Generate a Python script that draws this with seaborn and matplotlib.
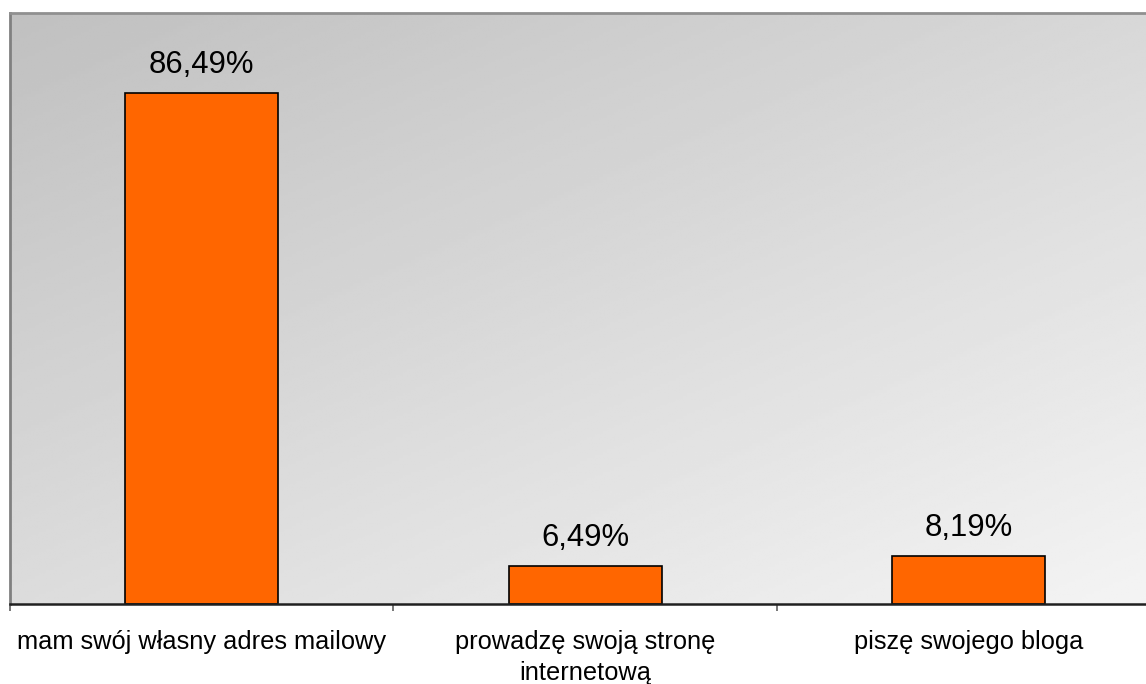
import numpy as np
import pandas as pd
import matplotlib
matplotlib.use("Agg")
import matplotlib.pyplot as plt
import seaborn as sns

# dane
kategorie = ["mam swój własny adres mailowy",
             "prowadzę swoją stronę\ninternetową",
             "piszę swojego bloga"]
wartosci = [86.49, 6.49, 8.19]
etykiety = ["86,49%", "6,49%", "8,19%"]

df = pd.DataFrame({"kategoria": kategorie, "wartosc": wartosci})

sns.set_theme(style="white")
plt.rcParams["font.family"] = ["Liberation Sans", "DejaVu Sans"]

fig = plt.figure(figsize=(11.46, 6.84), dpi=100)
ax = fig.add_axes([10 / 1146, 80 / 684, 1150.5 / 1146, 591 / 684])

# tło z gradientem (szary -> jasny)
xx, yy = np.meshgrid(np.linspace(0, 1, 300), np.linspace(0, 1, 200))
grad = 192 + 24 * xx + 28 * yy
ax.imshow(grad, cmap="gray", vmin=0, vmax=255, extent=[0, 1, 0, 1],
          transform=ax.transAxes, aspect="auto", origin="upper", zorder=0)

sns.barplot(data=df, x="kategoria", y="wartosc", color="#FF6600",
            edgecolor="black", linewidth=1.2, width=0.4, saturation=1,
            ax=ax, zorder=2)

for p, lab in zip(ax.patches, etykiety):
    ax.annotate(lab, (p.get_x() + p.get_width() / 2, p.get_height()),
                xytext=(0, 9), textcoords="offset points",
                ha="center", va="bottom", fontsize=22.3, color="black")

ax.set_xlim(-0.5, 2.5)
ax.set_ylim(0, 100)
ax.set_xlabel("")
ax.set_ylabel("")
ax.set_yticks([])
ax.set_xticks(range(3))
ax.set_xticklabels(kategorie, fontsize=18.3, color="black", linespacing=1.37)
ax.set_xticks([-0.5, 0.5, 1.5], minor=True)
ax.tick_params(axis="x", which="major", length=0, pad=18.5)
ax.tick_params(axis="x", which="minor", length=5, width=1.2,
               color="#606060", direction="out", bottom=True)

ax.spines["left"].set_color("#808080")
ax.spines["left"].set_linewidth(2)
ax.spines["top"].set_color("#909090")
ax.spines["top"].set_linewidth(2)
ax.spines["right"].set_visible(False)
ax.spines["bottom"].set_color("#202020")
ax.spines["bottom"].set_linewidth(1.8)

fig.savefig("out.png", dpi=100, facecolor="white")
